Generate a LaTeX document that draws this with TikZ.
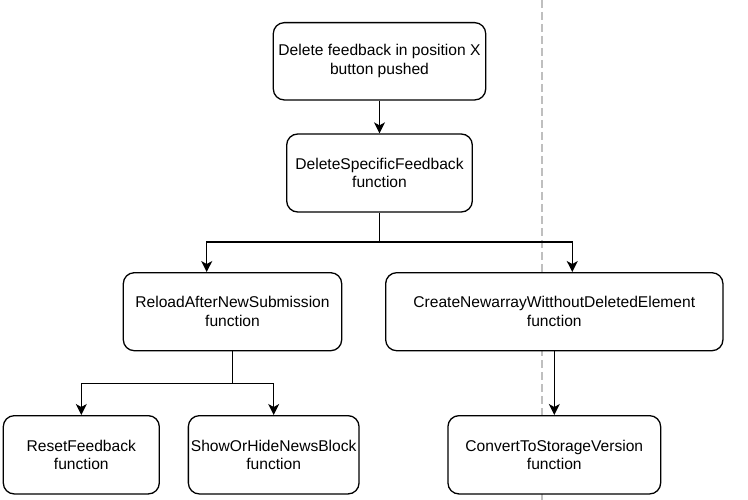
\documentclass[tikz,border=0pt]{standalone}
\usepackage{fontspec}
\setmainfont{Liberation Sans}
\usepackage{tikz}
\usetikzlibrary{arrows.meta}
\tikzset{fnbox/.style={draw, fill=white, line width=1.3pt, rounded corners=11pt, align=center,
    inner sep=0pt, font=\fontsize{15.6}{18.7}\selectfont},
  every edge/.style={draw, line width=1.3pt},
  flow/.style={line width=1.3pt, -{Stealth[length=11pt,width=11pt,inset=3pt]}}}

\begin{document}
\begin{tikzpicture}[x=1pt, y=-1pt]      % delete flow
    \path[use as bounding box] (0, 0) rectangle (748, 500);

    \draw[line width=1.3pt, color=black!25, dash pattern=on 8pt off 4pt] (542, 0) -- (542, 500);

    \node[fnbox, minimum width=212.4pt, minimum height=77.3pt] at (379.5, 61.3) (push) {Delete feedback in position X\\button pushed};
    \node[fnbox, minimum width=185.6pt, minimum height=78pt] at (379.5, 173) (DSF) {DeleteSpecificFeedback\\function};
    \node[fnbox, minimum width=218.4pt, minimum height=78pt] at (232.5, 311.7) (RANS) {ReloadAfterNewSubmission\\function};
    \node[fnbox, minimum width=337.3pt, minimum height=78pt] at (554.3, 311.7) (CNA) {CreateNewarrayWitthoutDeletedElement\\function};
    \node[fnbox, minimum width=156pt, minimum height=78.3pt] at (81.3, 454.8) (RF) {ResetFeedback\\function};
    \node[fnbox, minimum width=170.7pt, minimum height=78.3pt] at (273.7, 454.8) (SHNB) {ShowOrHideNewsBlock\\function};
    \node[fnbox, minimum width=212.7pt, minimum height=78.3pt] at (554.3, 454.8) (CTSV) {ConvertToStorageVersion\\function};

    \coordinate (split1) at (379.5, 242);
    \coordinate (split2) at (232.5, 383.3);

    \draw (push) edge[flow] (DSF);
    \draw[flow] (DSF) -- (split1) -| ([xshift=-25.8pt]RANS.north);
    \draw[flow] (split1) -| ([xshift=18pt]CNA.north);
    \draw[flow] (RANS) -- (split2) -| (RF);
    \draw[flow] (split2) -| (SHNB);
    \draw (CNA) edge[flow] (CTSV);
\end{tikzpicture}
\end{document}
